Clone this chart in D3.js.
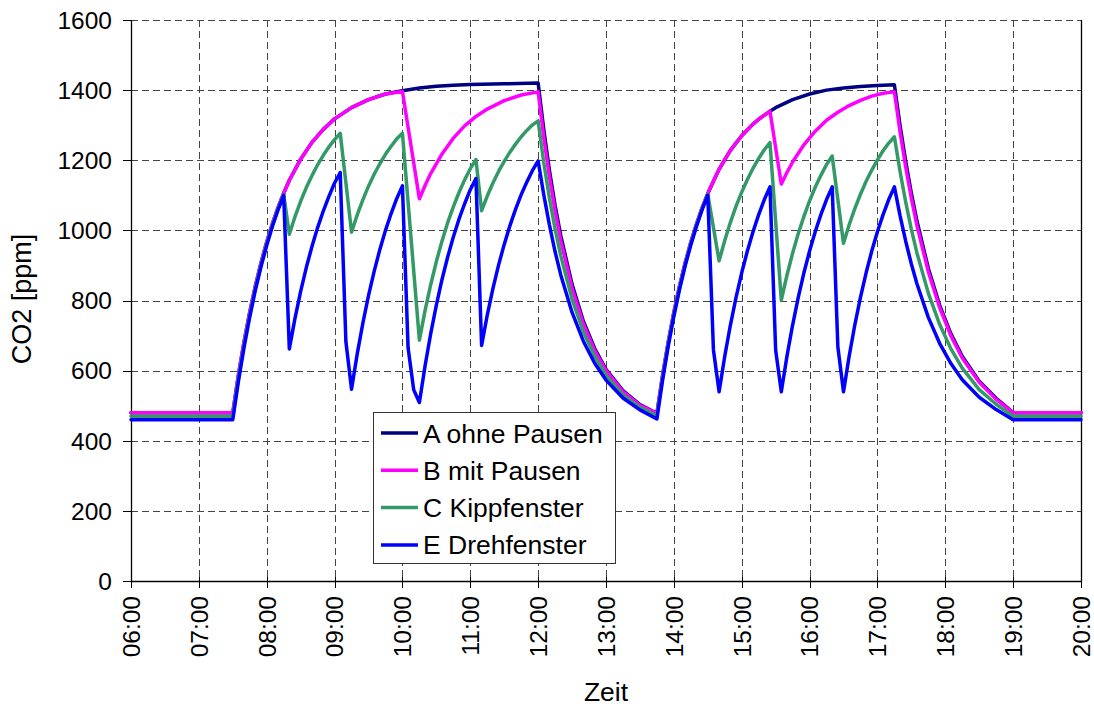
<!DOCTYPE html>
<meta charset="utf-8">
<style>
body { margin: 0; background: #fff; }
text { font-family: "Liberation Sans", Arial, sans-serif; fill: #000; }
</style>
<svg width="1094" height="707"></svg>
<script src="https://cdn.jsdelivr.net/npm/d3@7/dist/d3.min.js"></script>
<script>

// data
var xTicks = ["06:00","07:00","08:00","09:00","10:00","11:00","12:00","13:00",
              "14:00","15:00","16:00","17:00","18:00","19:00","20:00"];
var yTicks = [0, 200, 400, 600, 800, 1000, 1200, 1400, 1600];
var seriesNames = ["A ohne Pausen", "B mit Pausen", "C Kippfenster", "E Drehfenster"];

var seriesA = [["06:00",480],["07:30",480],["07:35",588],["07:40",683],["07:45",767],["07:50",842],["07:55",908],
  ["08:00",967],["08:05",1019],["08:10",1065],["08:15",1106],["08:20",1143],["08:30",1203],["08:40",1251],["08:50",1288],
  ["09:00",1318],["09:15",1350],["09:30",1373],["09:45",1389],["10:00",1398],["10:15",1406],["10:30",1411],["10:45",1414],
  ["11:00",1416],["11:30",1418],["12:00",1420],["12:05",1287],["12:10",1171],["12:15",1071],["12:20",985],["12:30",846],
  ["12:40",741],["12:50",663],["13:00",604],["13:15",543],["13:30",503],["13:45",478],["13:50",586],["13:55",681],
  ["14:00",766],["14:05",841],["14:10",907],["14:15",966],["14:20",1018],["14:25",1064],["14:30",1105],["14:35",1140],
  ["14:40",1174],["14:45",1202],["14:50",1228],["15:00",1270],["15:10",1303],["15:15",1317],["15:25",1340],["15:30",1350],
  ["15:45",1373],["16:00",1389],["16:15",1400],["16:30",1406],["16:45",1410],["17:00",1413],["17:15",1415],["17:20",1299],
  ["17:25",1197],["17:30",1106],["17:35",1026],["17:45",892],["17:55",787],["18:05",705],["18:15",641],["18:30",570],
  ["18:45",521],["19:00",480],["20:00",480]];

var seriesB = [["06:00",480],["07:30",480],["07:35",588],["07:40",683],["07:45",767],["07:50",842],["07:55",908],
  ["08:00",967],["08:05",1019],["08:10",1065],["08:15",1106],["08:20",1143],["08:30",1203],["08:40",1251],["08:50",1288],
  ["09:00",1318],["09:15",1350],["09:30",1373],["09:45",1389],["10:00",1396],["10:15",1090],["10:20",1128],["10:25",1162],
  ["10:35",1218],["10:45",1263],["10:55",1298],["11:05",1325],["11:15",1346],["11:30",1370],["11:45",1386],["12:00",1395],
  ["12:05",1265],["12:10",1152],["12:15",1055],["12:20",971],["12:30",835],["12:40",733],["12:50",657],["13:00",600],
  ["13:15",540],["13:30",501],["13:45",478],["13:50",586],["13:55",681],["14:00",766],["14:05",841],["14:10",907],
  ["14:15",966],["14:20",1018],["14:25",1064],["14:30",1105],["14:35",1140],["14:40",1174],["14:45",1202],["14:50",1228],
  ["15:00",1270],["15:10",1303],["15:15",1317],["15:25",1340],["15:35",1132],["15:40",1165],["15:45",1195],["15:55",1244],
  ["16:05",1283],["16:15",1314],["16:25",1337],["16:35",1356],["16:45",1371],["16:55",1383],["17:05",1391],["17:15",1395],
  ["17:20",1281],["17:25",1181],["17:30",1092],["17:35",1013],["17:45",882],["17:55",780],["18:05",699],["18:15",636],
  ["18:30",567],["18:45",518],["19:00",480],["20:00",480]];

var seriesC = [["06:00",470],["07:30",470],["07:35",579],["07:40",675],["07:45",760],["07:50",836],["07:55",903],
  ["08:00",962],["08:05",1015],["08:10",1062],["08:15",1103],["08:20",989],["08:25",1039],["08:30",1083],["08:35",1122],
  ["08:40",1156],["08:45",1187],["08:50",1214],["08:55",1238],["09:00",1259],["09:05",1277],["09:15",995],["09:20",1044],
  ["09:25",1087],["09:30",1126],["09:35",1160],["09:40",1190],["09:45",1217],["09:50",1240],["09:55",1261],["10:00",1277],
  ["10:15",687],["10:20",771],["10:25",845],["10:30",911],["10:35",970],["10:40",1022],["10:45",1067],["10:50",1108],
  ["10:55",1144],["11:00",1176],["11:05",1202],["11:10",1056],["11:15",1098],["11:20",1135],["11:25",1168],["11:30",1197],
  ["11:35",1223],["11:40",1246],["11:45",1267],["11:50",1285],["11:55",1301],["12:00",1312],["12:05",1193],["12:10",1092],
  ["12:15",1004],["12:20",928],["12:30",804],["12:40",711],["12:50",641],["13:00",587],["13:15",531],["13:30",495],
  ["13:45",471],["13:50",580],["13:55",676],["14:00",761],["14:05",836],["14:10",903],["14:15",963],["14:20",1015],
  ["14:25",1062],["14:30",1103],["14:40",913],["14:45",971],["14:50",1023],["14:55",1069],["15:00",1109],["15:05",1145],
  ["15:10",1177],["15:15",1205],["15:20",1230],["15:25",1250],["15:35",801],["15:40",872],["15:45",935],["15:50",991],
  ["15:55",1040],["16:00",1084],["16:05",1123],["16:10",1157],["16:15",1188],["16:20",1212],["16:30",963],["16:35",1016],
  ["16:40",1062],["16:45",1103],["16:50",1140],["16:55",1172],["17:00",1201],["17:05",1227],["17:10",1249],["17:15",1267],
  ["17:20",1168],["17:25",1081],["17:30",1003],["17:35",935],["17:45",821],["17:55",732],["18:05",662],["18:15",607],
  ["18:30",546],["18:45",504],["19:00",470],["20:00",470]];

var seriesE = [["06:00",460],["07:30",460],["07:35",570],["07:40",667],["07:45",753],["07:50",830],["07:55",897],
  ["08:00",957],["08:05",1011],["08:10",1058],["08:15",1100],["08:20",662],["08:25",749],["08:30",826],["08:35",894],
  ["08:40",954],["08:45",1008],["08:50",1055],["08:55",1097],["09:00",1135],["09:05",1165],["09:10",683],["09:15",547],
  ["09:20",647],["09:25",735],["09:30",814],["09:35",883],["09:40",945],["09:45",1000],["09:50",1048],["09:55",1091],
  ["10:00",1127],["10:05",665],["10:10",545],["10:15",509],["10:20",613],["10:25",705],["10:30",787],["10:35",860],
  ["10:40",924],["10:45",981],["10:50",1032],["10:55",1076],["11:00",1116],["11:05",1148],["11:10",672],["11:15",758],
  ["11:20",834],["11:25",901],["11:30",960],["11:35",1013],["11:40",1060],["11:45",1102],["11:50",1138],["11:55",1171],
  ["12:00",1198],["12:05",1101],["12:10",1015],["12:15",939],["12:20",873],["12:30",766],["12:40",684],["12:50",621],
  ["13:00",573],["13:15",522],["13:30",488],["13:45",462],["13:50",572],["13:55",669],["14:00",755],["14:05",831],
  ["14:10",899],["14:15",958],["14:20",1011],["14:25",1059],["14:30",1100],["14:35",659],["14:40",540],["14:45",641],
  ["14:50",730],["14:55",809],["15:00",879],["15:05",941],["15:10",996],["15:15",1045],["15:20",1088],["15:25",1124],
  ["15:30",659],["15:35",540],["15:40",641],["15:45",730],["15:50",809],["15:55",879],["16:00",941],["16:05",996],
  ["16:10",1045],["16:15",1088],["16:20",1124],["16:25",668],["16:30",540],["16:35",641],["16:40",730],["16:45",809],
  ["16:50",879],["16:55",941],["17:00",996],["17:05",1045],["17:10",1088],["17:15",1124],["17:20",1042],["17:25",969],
  ["17:30",904],["17:35",847],["17:45",752],["17:55",678],["18:05",620],["18:15",574],["18:30",524],["18:45",489],
  ["19:00",460],["20:00",460]];

var colors = ["#000080", "#ff00ff", "#339966", "#0000ff"];

var svg = d3.select("svg"),
    margin = {top: 20, right: 13, bottom: 126, left: 131},
    width = +svg.attr("width"),
    height = +svg.attr("height");

function hours(s) {
  var p = s.split(":");
  return +p[0] + (+p[1]) / 60;
}

var x = d3.scaleLinear()
    .domain([6, 20])
    .range([margin.left, width - margin.right]);

var y = d3.scaleLinear()
    .domain([0, 1600])
    .range([height - margin.bottom, margin.top]);

var x0 = x.range()[0], x1 = x.range()[1],
    y0 = y.range()[0], y1 = y.range()[1];

// grid
var grid = svg.append("g")
    .attr("stroke", "#444")
    .attr("stroke-width", 1)
    .attr("stroke-dasharray", "7,4");

grid.selectAll("line.h")
  .data(yTicks.filter(function(d) { return d > 0; }))
  .enter().append("line")
    .attr("class", "h")
    .attr("x1", x0).attr("x2", x1)
    .attr("y1", function(d) { return Math.round(y(d)) + 0.5; })
    .attr("y2", function(d) { return Math.round(y(d)) + 0.5; });

grid.selectAll("line.v")
  .data(xTicks.slice(1, -1))
  .enter().append("line")
    .attr("class", "v")
    .attr("y1", y1).attr("y2", y0)
    .attr("x1", function(d) { return Math.round(x(hours(d))) + 0.5; })
    .attr("x2", function(d) { return Math.round(x(hours(d))) + 0.5; });

// frame: left, bottom, right
svg.append("path")
    .attr("fill", "none")
    .attr("stroke", "#000")
    .attr("stroke-width", 1.3)
    .attr("d", "M" + (x0 + 0.5) + "," + y1 + "V" + (y0 + 0.5) + "H" + (x1 + 0.5) + "V" + y1);

// ticks
svg.append("g")
    .attr("stroke", "#000")
  .selectAll("line")
  .data(yTicks)
  .enter().append("line")
    .attr("x1", x0 - 8).attr("x2", x0)
    .attr("y1", function(d) { return Math.round(y(d)) + 0.5; })
    .attr("y2", function(d) { return Math.round(y(d)) + 0.5; });

svg.append("g")
    .attr("stroke", "#000")
  .selectAll("line")
  .data(xTicks)
  .enter().append("line")
    .attr("y1", y0 - 4).attr("y2", y0 + 7)
    .attr("x1", function(d) { return Math.round(x(hours(d))) + 0.5; })
    .attr("x2", function(d) { return Math.round(x(hours(d))) + 0.5; });

// tick labels
svg.append("g")
    .style("font-size", "24.5px")
    .attr("text-anchor", "end")
  .selectAll("text")
  .data(yTicks)
  .enter().append("text")
    .attr("x", x0 - 19)
    .attr("y", function(d) { return y(d); })
    .attr("dy", "0.36em")
    .text(function(d) { return d; });

svg.append("g")
    .style("font-size", "24.5px")
    .attr("text-anchor", "end")
  .selectAll("text")
  .data(xTicks)
  .enter().append("text")
    .attr("transform", function(d) { return "translate(" + x(hours(d)) + "," + (y0 + 15) + ")rotate(-90)"; })
    .attr("dy", "0.36em")
    .text(function(d) { return d; });

// axis titles
svg.append("text")
    .attr("x", 606).attr("y", 701)
    .attr("text-anchor", "middle")
    .style("font-size", "26.5px")
    .text("Zeit");

svg.append("text")
    .attr("transform", "translate(31," + 299 + ")rotate(-90)")
    .attr("text-anchor", "middle")
    .style("font-size", "27px")
    .text("CO2 [ppm]");

// lines
var line = d3.line()
    .x(function(d) { return x(hours(d[0])); })
    .y(function(d) { return y(d[1]); });

svg.append("g")
    .attr("fill", "none")
    .attr("stroke-width", 3.5)
    .attr("stroke-linejoin", "round")
    .attr("stroke-linecap", "round")
  .selectAll("path")
  .data([seriesA, seriesB, seriesC, seriesE])
  .enter().append("path")
    .attr("stroke", function(d, i) { return colors[i]; })
    .attr("d", line);

// legend
var legend = svg.append("g").attr("transform", "translate(373,412)");

legend.append("rect")
    .attr("x", 0.5).attr("y", 0.5)
    .attr("width", 242).attr("height", 151)
    .attr("fill", "#fff")
    .attr("stroke", "#333");

var item = legend.selectAll("g.item")
  .data(seriesNames)
  .enter().append("g")
    .attr("class", "item")
    .attr("transform", function(d, i) { return "translate(0," + (21 + i * 37.3) + ")"; });

item.append("line")
    .attr("x1", 8).attr("x2", 45)
    .attr("stroke-width", 3.5)
    .attr("stroke", function(d, i) { return colors[i]; });

item.append("text")
    .attr("x", 50)
    .attr("dy", "0.36em")
    .style("font-size", "26.5px")
    .text(function(d) { return d; });

</script>
